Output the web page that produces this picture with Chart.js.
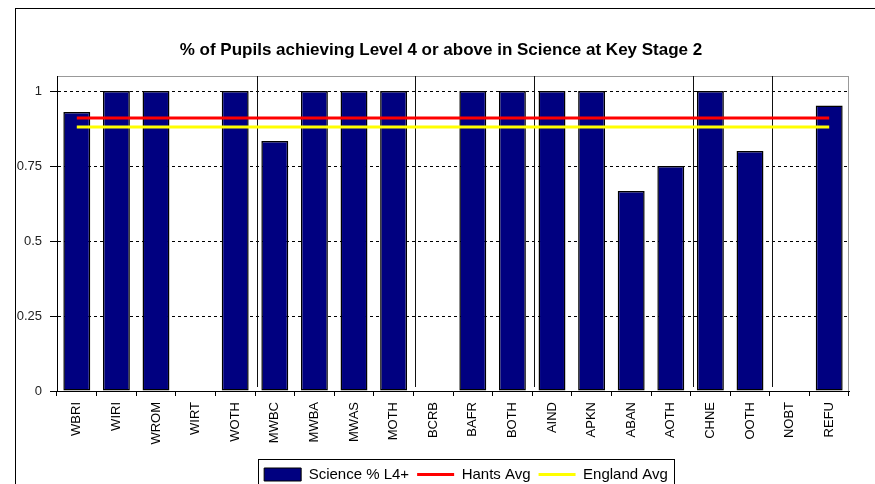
<!DOCTYPE html>
<html>
<head>
<meta charset="utf-8">
<script src="https://cdn.jsdelivr.net/npm/chart.js@4/dist/chart.umd.min.js"></script>
<style>
  html, body { margin: 0; padding: 0; background: #fff; overflow: hidden; }
</style>
</head>
<body>
<canvas id="chart" width="875" height="492"></canvas>
<script>
// Ethnic group codes along the x axis
const categories = ['WBRI', 'WIRI', 'WROM', 'WIRT', 'WOTH', 'MWBC', 'MWBA', 'MWAS', 'MOTH', 'BCRB',
                    'BAFR', 'BOTH', 'AIND', 'APKN', 'ABAN', 'AOTH', 'CHNE', 'OOTH', 'NOBT', 'REFU'];
// Science % L4+
const scienceL4 = [0.93, 1, 1, 0, 1, 0.833, 1, 1, 1, 0, 1, 1, 1, 1, 0.667, 0.75, 1, 0.8, 0, 0.952];
// Averages are flat lines across all groups
const hantsAvg = [0.91, 0.91, 0.91, 0.91, 0.91, 0.91, 0.91, 0.91, 0.91, 0.91,
                  0.91, 0.91, 0.91, 0.91, 0.91, 0.91, 0.91, 0.91, 0.91, 0.91];
const englandAvg = [0.88, 0.88, 0.88, 0.88, 0.88, 0.88, 0.88, 0.88, 0.88, 0.88,
                    0.88, 0.88, 0.88, 0.88, 0.88, 0.88, 0.88, 0.88, 0.88, 0.88];
// first category of each new group (vertical divider drawn before it)
const groupStarts = [5, 9, 12, 16, 18];
const yTicks = [0, 0.25, 0.5, 0.75, 1];

const FONT = 'Liberation Sans, Arial, sans-serif';

// outer frame, plot box, group dividers and legend border
const decorPlugin = {
  id: 'decor',
  afterLayout(chart) {
    // legend sits a bit right of centre in the original
    chart.legend.left += 13;
    chart.legend.right += 13;
  },
  beforeDraw(chart) {
    const ctx = chart.ctx, a = chart.chartArea;
    ctx.save();
    ctx.fillStyle = '#fff';
    ctx.fillRect(0, 0, chart.width, chart.height);
    ctx.strokeStyle = '#000';
    ctx.lineWidth = 1;
    ctx.strokeRect(15.5, 8.5, 1000, 800);
    ctx.strokeStyle = '#999';
    ctx.strokeRect(a.left + 0.5, a.top + 0.5, a.right - a.left - 1, a.bottom - a.top);
    ctx.restore();
  },
  beforeDatasetsDraw(chart) {
    const ctx = chart.ctx, a = chart.chartArea, x = chart.scales.x;
    ctx.save();
    ctx.strokeStyle = '#111';
    ctx.lineWidth = 1;
    groupStarts.forEach(i => {
      const px = Math.round((x.getPixelForValue(i - 1) + x.getPixelForValue(i)) / 2) + 2.5;
      ctx.beginPath();
      ctx.moveTo(px, a.top);
      ctx.lineTo(px, a.bottom - 4);
      ctx.stroke();
    });
    ctx.restore();
  },
  afterDraw(chart) {
    const ctx = chart.ctx, lg = chart.legend, hb = lg.legendHitBoxes;
    if (!hb || !hb.length) return;
    const l = Math.min(...hb.map(b => b.left)) - 6;
    const r = Math.max(...hb.map(b => b.left + b.width)) + 6;
    ctx.save();
    ctx.strokeStyle = '#000';
    ctx.lineWidth = 1;
    ctx.strokeRect(Math.round(l) + 0.5, Math.round(lg.top) + 0.5, Math.round(r - l), 80);
    ctx.restore();
  }
};

new Chart(document.getElementById('chart'), {
  data: {
    labels: categories,
    datasets: [
      {
        type: 'bar', label: 'Science % L4+', data: scienceL4,
        backgroundColor: '#000080', borderColor: '#000', borderWidth: 1.5,
        borderSkipped: false, barPercentage: 0.68, categoryPercentage: 1, order: 2
      },
      {
        type: 'line', label: 'Hants Avg', data: hantsAvg,
        borderColor: '#ff0000', backgroundColor: '#ff0000', borderWidth: 3,
        pointRadius: 0, fill: false, order: 1
      },
      {
        type: 'line', label: 'England Avg', data: englandAvg,
        borderColor: '#ffff00', backgroundColor: '#ffff00', borderWidth: 3,
        pointRadius: 0, fill: false, order: 0
      }
    ]
  },
  options: {
    responsive: false,
    animation: false,
    events: [],
    layout: { padding: { left: 16, right: 9, top: 0, bottom: 0 } },
    plugins: {
      tooltip: { enabled: false },
      title: {
        display: true,
        text: '% of Pupils achieving Level 4 or above in Science at Key Stage 2',
        color: '#000',
        font: { family: FONT, size: 17, weight: 'bold' },
        padding: { top: 40, bottom: 15.6 }
      },
      legend: {
        position: 'bottom',
        fullSize: false,
        labels: {
          usePointStyle: true,
          pointStyleWidth: 37,
          boxHeight: 13,
          padding: 8,
          color: '#000',
          font: { family: FONT, size: 15 },
          generateLabels: chart => chart.data.datasets.map((ds, i) => ({
            text: ds.label,
            fillStyle: ds.backgroundColor,
            strokeStyle: ds.type === 'line' ? ds.borderColor : '#000',
            lineWidth: ds.type === 'line' ? 3 : 1,
            pointStyle: ds.type === 'line' ? 'line' : 'rect',
            hidden: false,
            datasetIndex: i,
            fontColor: '#000'
          }))
        }
      }
    },
    scales: {
      x: {
        grid: {
          display: true, drawOnChartArea: false, drawTicks: true,
          tickLength: 5, color: '#000', tickColor: '#000', offset: true
        },
        border: { display: true, color: '#000', width: 1 },
        ticks: {
          minRotation: 90, maxRotation: 90, autoSkip: false, padding: 6,
          color: '#000', font: { family: FONT, size: 13 }
        },
        afterFit(s) { s.height = 68; }
      },
      y: {
        min: 0, max: 1.05,
        afterBuildTicks(s) { s.ticks = yTicks.map(v => ({ value: v })); },
        grid: { color: '#000', lineWidth: 1, tickColor: '#000', tickLength: 7, tickBorderDash: [] },
        border: { display: true, color: '#000', width: 1, dash: [3, 3] },
        ticks: {
          padding: 8, color: '#222', font: { family: FONT, size: 13 },
          callback: v => String(v)
        },
        afterFit(s) { s.width = 41; }
      },
      y2: {
        position: 'right', display: true,
        grid: { display: false, drawOnChartArea: false },
        border: { display: false },
        ticks: { display: false },
        afterFit(s) { s.width = 17; }
      }
    }
  },
  plugins: [decorPlugin]
});
</script>
</body>
</html>
